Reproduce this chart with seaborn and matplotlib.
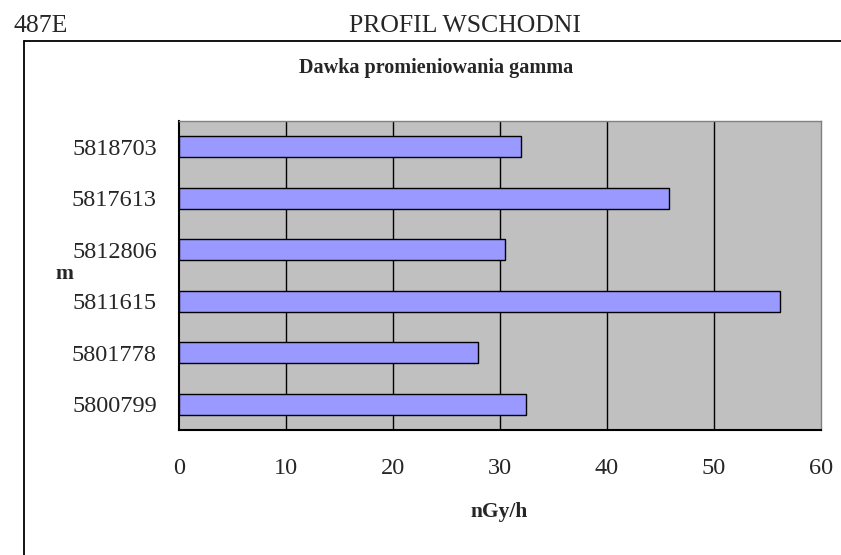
import matplotlib
matplotlib.use("Agg")
import matplotlib.pyplot as plt
import seaborn as sns
import pandas as pd
from matplotlib.lines import Line2D

# values (nGy/h)
stations = ["5818703", "5817613", "5812806", "5811615", "5801778", "5800799"]
dose = [32.0, 45.8, 30.5, 56.2, 27.9, 32.4]
x_ticks = [0, 10, 20, 30, 40, 50, 60]

df = pd.DataFrame({"m": stations, "nGy/h": dose})

sns.set_style("white")
plt.rcParams["font.family"] = ["Liberation Serif", "DejaVu Serif"]

W, H = 841, 555
fig = plt.figure(figsize=(W / 100, H / 100), dpi=100)

# plot area in pixel terms
left, right, top, bottom = 179, 821, 121, 430
ax = fig.add_axes([left / W, 1 - bottom / H, (right - left) / W, (bottom - top) / H])
ax.set_facecolor("#c0c0c0")

sns.barplot(data=df, x="nGy/h", y="m", order=stations, color="#9999ff",
            width=0.4, edgecolor="black", linewidth=1, saturation=1, ax=ax, zorder=3)

ax.set_xlim(0, 60)
ax.set_ylim(len(stations) - 0.5, -0.5)
ax.set_xticks(x_ticks)
ax.set_xticklabels([str(t) for t in x_ticks], fontsize=17.5)
ax.tick_params(axis="x", direction="out", length=7, width=1, color="black", pad=13)
for t in x_ticks[1:-1]:
    ax.axvline(t, color="black", linewidth=1, zorder=1)

# category labels in the middle, tick marks on the boundaries
ax.set_yticks(range(len(stations)))
ax.set_yticklabels(stations, fontsize=17.5)
ax.tick_params(axis="y", which="major", length=0, pad=16)
ax.set_yticks([i - 0.5 for i in range(len(stations) + 1)], minor=True)
ax.tick_params(axis="y", which="minor", direction="out", length=7, width=1, color="black")

for s in ["top", "right"]:
    ax.spines[s].set_color("#808080")
    ax.spines[s].set_linewidth(1)
for s in ["left", "bottom"]:
    ax.spines[s].set_color("black")
    ax.spines[s].set_linewidth(1.5)

ax.set_xlabel("")
ax.set_ylabel("")
fig.text(499 / W, 1 - 512 / H, "nGy/h", fontsize=15.5, fontweight="bold", ha="center", va="center")
fig.text(64 / W, 1 - 274 / H, "m", fontsize=15.5, fontweight="bold", ha="center", va="center")

fig.text(436 / W, 1 - 73 / H, "Dawka promieniowania gamma", fontsize=14.5,
         fontweight="bold", ha="center", va="baseline")
fig.text(14 / W, 1 - 32 / H, "487E", fontsize=18.5, ha="left", va="baseline")
fig.text(465 / W, 1 - 32 / H, "PROFIL WSCHODNI", fontsize=18.5, ha="center", va="baseline")

# outer chart frame (only top and left edges visible)
fig.add_artist(Line2D([24 / W, 24 / W], [0, 1 - 41 / H], transform=fig.transFigure,
                      color="black", linewidth=1.3))
fig.add_artist(Line2D([24 / W, 1], [1 - 41 / H, 1 - 41 / H], transform=fig.transFigure,
                      color="black", linewidth=1.3))

fig.savefig("out.png", dpi=100)
